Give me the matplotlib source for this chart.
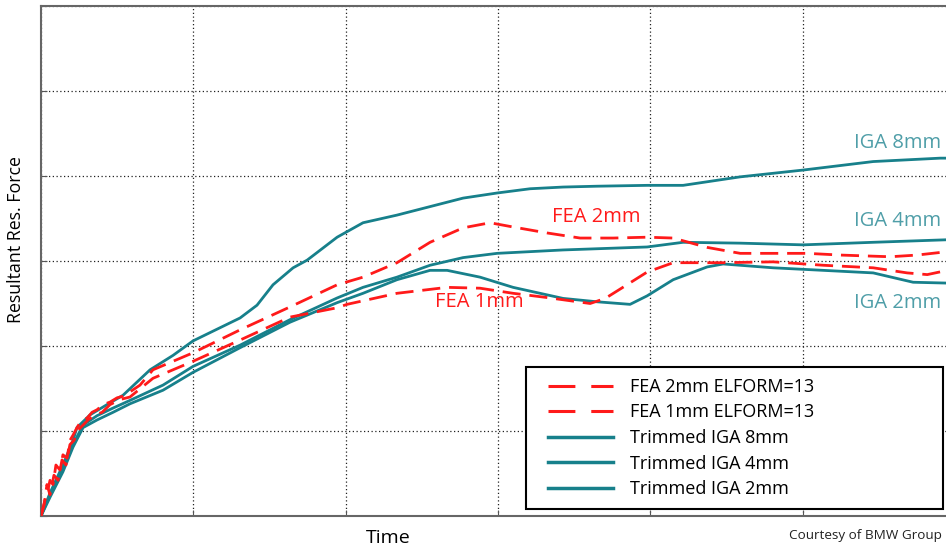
import numpy as np
import matplotlib
matplotlib.use("Agg")
import matplotlib.pyplot as plt
from matplotlib.lines import Line2D
from matplotlib.legend_handler import HandlerLine2D

plt.rcParams['font.family'] = ['Open Sans', 'DejaVu Sans']

# curves (time, force) in grid units
t_fea2 = [0, 0.026, 0.046, 0.059, 0.079, 0.098, 0.125, 0.144, 0.171, 0.190, 0.210, 0.236, 0.269, 0.302,
          0.335, 0.368, 0.407, 0.453, 0.499, 0.538, 0.584, 0.650, 0.735, 0.998, 1.307, 1.635, 1.944, 2.114,
          2.337, 2.554, 2.771, 2.948, 3.099, 3.322, 3.539, 3.756, 3.979, 4.150, 4.373, 4.590, 5.030, 5.246,
          5.575, 5.752, 5.95]
f_fea2 = [0, 0.19, 0.31, 0.42, 0.37, 0.60, 0.54, 0.72, 0.68, 0.89, 0.95, 1.04, 1.13, 1.15,
          1.22, 1.25, 1.31, 1.34, 1.39, 1.41, 1.46, 1.54, 1.72, 1.92, 2.19, 2.46, 2.72, 2.81,
          2.98, 3.22, 3.39, 3.45, 3.40, 3.33, 3.27, 3.27, 3.28, 3.27, 3.16, 3.09, 3.09, 3.07,
          3.05, 3.07, 3.11]

t_fea1 = [0, 0.020, 0.039, 0.059, 0.085, 0.112, 0.138, 0.164, 0.190, 0.217, 0.243, 0.276, 0.309, 0.355,
          0.401, 0.453, 0.519, 0.584, 0.735, 0.998, 1.307, 1.635, 1.944, 2.009, 2.337, 2.666, 2.882,
          3.099, 3.322, 3.605, 3.704, 3.802, 3.979, 4.150, 4.478, 4.806, 5.135, 5.463, 5.686, 5.818, 5.95]
f_fea1 = [0, 0.13, 0.37, 0.25, 0.48, 0.42, 0.66, 0.60, 0.84, 0.89, 1.01, 1.07, 1.13, 1.19,
          1.22, 1.31, 1.37, 1.40, 1.62, 1.82, 2.07, 2.34, 2.45, 2.49, 2.62, 2.69, 2.68,
          2.62, 2.57, 2.50, 2.56, 2.67, 2.87, 2.98, 2.98, 2.99, 2.95, 2.92, 2.86, 2.84, 2.89]

t_iga8 = [0, 0.059, 0.144, 0.210, 0.236, 0.322, 0.433, 0.538, 0.716, 0.867, 0.998, 1.307, 1.418, 1.523,
          1.655, 1.747, 1.944, 2.114, 2.337, 2.554, 2.771, 2.994, 3.211, 3.427, 3.651, 3.979, 4.215,
          4.590, 5.003, 5.463, 5.903, 5.95]
f_iga8 = [0, 0.27, 0.60, 0.89, 1.04, 1.19, 1.31, 1.42, 1.72, 1.89, 2.06, 2.33, 2.48, 2.72,
          2.92, 3.01, 3.28, 3.45, 3.54, 3.64, 3.74, 3.80, 3.85, 3.87, 3.88, 3.89, 3.89,
          3.99, 4.07, 4.17, 4.21, 4.21]

t_iga4 = [0, 0.059, 0.144, 0.210, 0.276, 0.368, 0.473, 0.584, 0.801, 0.998, 1.307, 1.635, 1.944, 2.114,
          2.337, 2.554, 2.771, 2.994, 3.427, 3.979, 4.215, 4.590, 5.003, 5.463, 5.95]
f_iga4 = [0, 0.25, 0.54, 0.84, 1.07, 1.18, 1.27, 1.36, 1.54, 1.76, 2.01, 2.31, 2.565, 2.69,
          2.81, 2.95, 3.04, 3.09, 3.13, 3.165, 3.22, 3.21, 3.19, 3.22, 3.25]

t_iga2 = [0, 0.059, 0.144, 0.210, 0.276, 0.368, 0.473, 0.584, 0.801, 0.998, 1.307, 1.635, 1.944, 2.114,
          2.337, 2.554, 2.666, 2.882, 3.099, 3.427, 3.651, 3.867, 3.979, 4.150, 4.373, 4.478, 4.806,
          5.135, 5.463, 5.725, 5.95]
f_iga2 = [0, 0.22, 0.52, 0.81, 1.04, 1.13, 1.22, 1.32, 1.48, 1.69, 1.98, 2.28, 2.51, 2.62,
          2.78, 2.89, 2.89, 2.81, 2.69, 2.56, 2.52, 2.49, 2.59, 2.78, 2.93, 2.965, 2.92,
          2.89, 2.86, 2.75, 2.74]

legend_labels = ["FEA 2mm ELFORM=13", "FEA 1mm ELFORM=13",
                 "Trimmed IGA 8mm", "Trimmed IGA 4mm", "Trimmed IGA 2mm"]

red = "#ff1a1a"
teal = "#17808b"
teal_txt = "#4f9ea8"

fig = plt.figure(figsize=(9.46, 5.5), dpi=100)
ax = fig.add_axes([41/946, 34/550, 914/946, 510/550])

ax.plot(t_fea2, f_fea2, color=red, lw=2.0, dashes=(6.5, 3.2), zorder=3)
ax.plot(t_fea1, f_fea1, color=red, lw=2.0, dashes=(6.5, 3.2), zorder=3)
for t, f in [(t_iga8, f_iga8), (t_iga4, f_iga4), (t_iga2, f_iga2)]:
    ax.plot(t, f, color=teal, lw=2.0, zorder=2)

ax.set_xlim(0, 6)
ax.set_ylim(0, 6)
ax.set_xticks(np.arange(0, 7, 1))
ax.set_yticks(np.arange(0, 7, 1))
ax.set_xticklabels([])
ax.set_yticklabels([])
ax.tick_params(direction='in', length=4, color='#555555')
ax.grid(True, color='#222222', linestyle=(0, (1, 2)), lw=0.9)
for s in ax.spines.values():
    s.set_color('#666666')
    s.set_linewidth(1.5)

ax.set_xlabel("Time", fontsize=14)
ax.xaxis.set_label_coords(347/914, -13/510)
ax.set_ylabel("Resultant Res. Force", fontsize=12.8)
ax.yaxis.set_label_coords(-16/914, 276/510)

ax.text(5.62, 4.39, "IGA 8mm", color=teal_txt, fontsize=14.5, ha='center', va='center')
ax.text(5.62, 3.47, "IGA 4mm", color=teal_txt, fontsize=14.5, ha='center', va='center')
ax.text(5.62, 2.50, "IGA 2mm", color=teal_txt, fontsize=14.5, ha='center', va='center')
ax.text(3.644, 3.52, "FEA 2mm", color=red, fontsize=14.5, ha='center', va='center')
ax.text(2.876, 2.52, "FEA 1mm", color=red, fontsize=14.5, ha='center', va='center')

fig.text(942/946, 1 - 536/550, "Courtesy of BMW Group", fontsize=9.7, ha='right', va='center',
         color='#222222')

handles = [Line2D([], [], color=red, lw=2.2, dashes=(8.8, 5.2)),
           Line2D([], [], color=red, lw=2.2, dashes=(8.8, 5.2)),
           Line2D([], [], color=teal, lw=2.5),
           Line2D([], [], color=teal, lw=2.5),
           Line2D([], [], color=teal, lw=2.5)]
leg = ax.legend(handles, legend_labels, loc='lower left', bbox_to_anchor=(485/914, 7/510, 417/914, 139/510),
                mode='expand', fontsize=13, handlelength=4.2, labelspacing=0.42, borderaxespad=0,
                fancybox=False, framealpha=1, edgecolor='black', handletextpad=0.97, borderpad=0.6,
                handler_map={Line2D: HandlerLine2D(xpad=0.6)})
leg.get_frame().set_linewidth(1.5)

fig.savefig("out.png", dpi=100)
